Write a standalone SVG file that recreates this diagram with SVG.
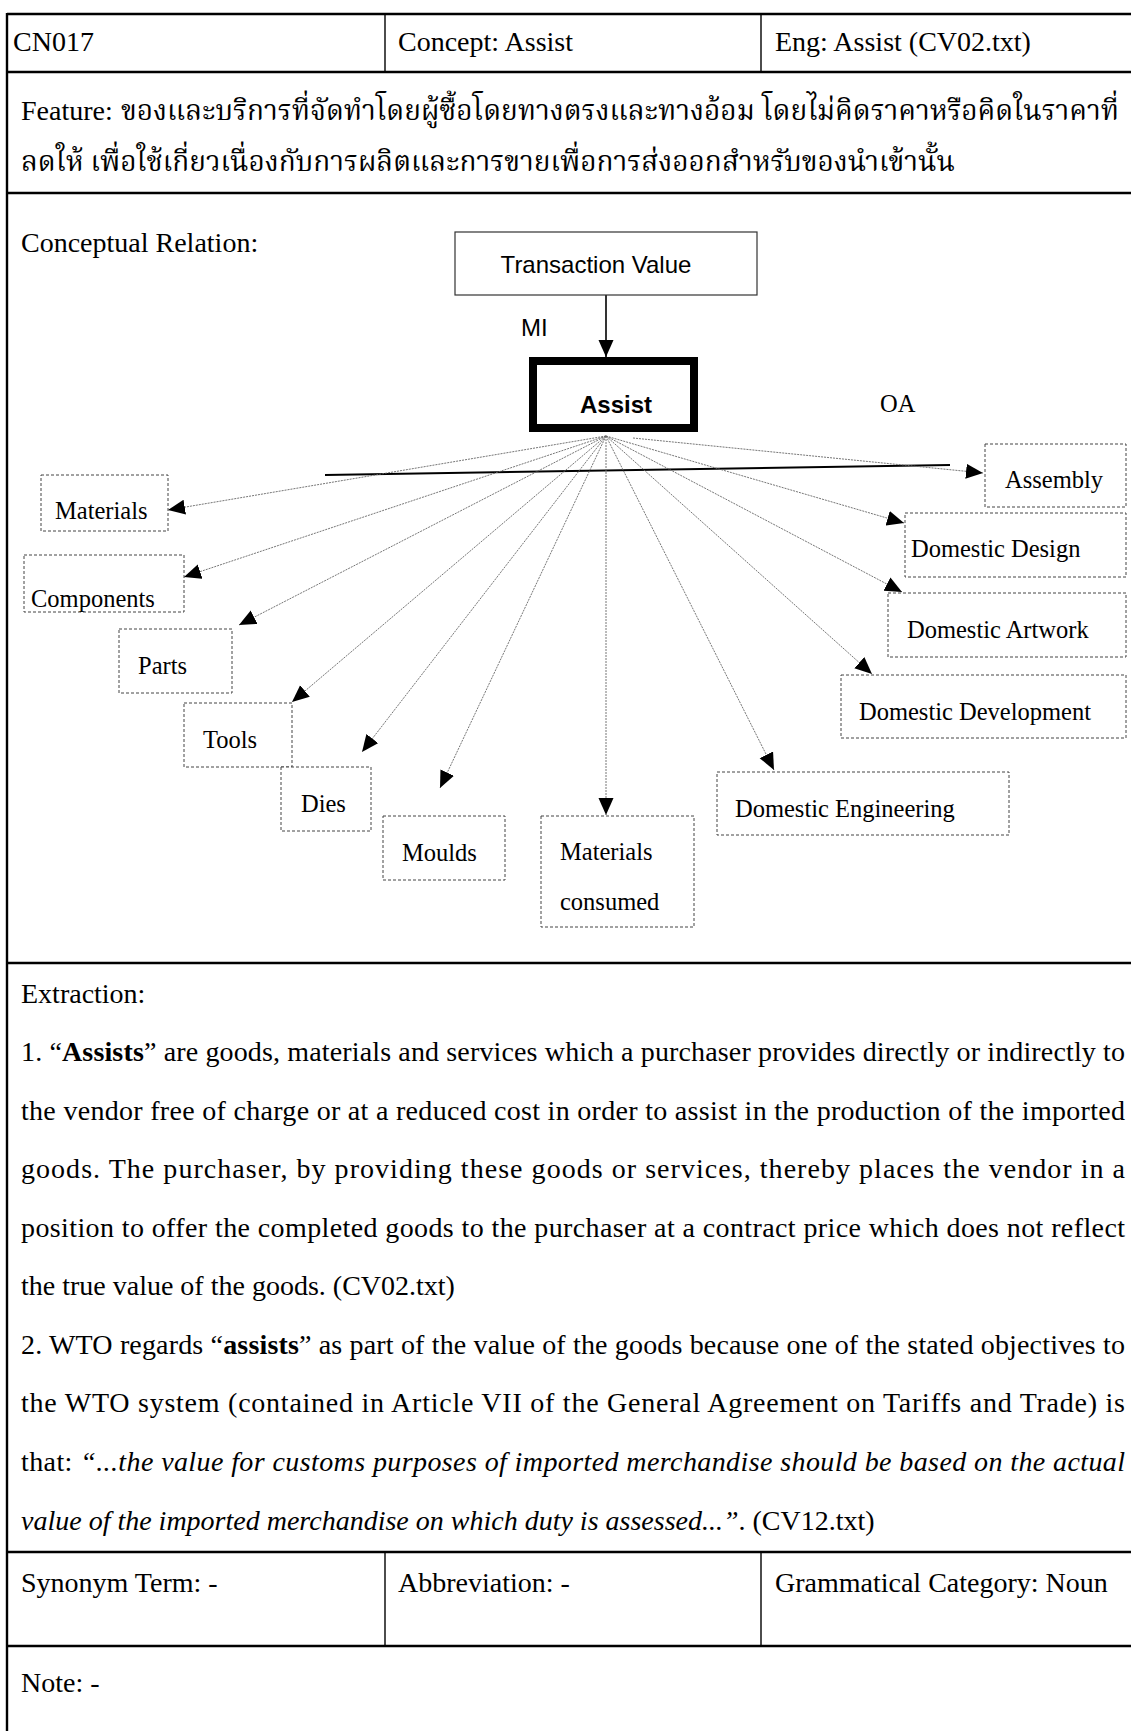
<svg xmlns="http://www.w3.org/2000/svg" width="1131" height="1731" viewBox="0 0 1131 1731">
  <defs>
    <style>
      .rule { stroke: #000; stroke-width: 2.4; fill: none; }
      .col { stroke: #000; stroke-width: 1.4; fill: none; }
      .t { font-family: 'Liberation Serif', 'Times New Roman', serif; font-size: 28px; fill: #000; }
      .th { font-family: 'Noto Serif Thai', 'Noto Sans Thai', 'TH Sarabun New', 'Loma', 'Norasi', 'Garuda', 'Liberation Serif', serif; font-size: 28px; fill: #000; }
      .lbl { font-family: 'Liberation Serif', 'Times New Roman', serif; font-size: 24.5px; fill: #000; }
      .sans { font-family: 'Liberation Sans', Arial, sans-serif; font-size: 24px; fill: #000; }
      .node { fill: #fff; stroke: #444; stroke-width: 1; stroke-dasharray: 3 2; }
      .edge { stroke: #666; stroke-width: 0.9; stroke-dasharray: 2 1; fill: none; marker-end: url(#arrow); }
      .b { font-weight: bold; }
      .i { font-style: italic; }
    </style>
    <marker id="arrow" markerUnits="userSpaceOnUse" markerWidth="18" markerHeight="16" refX="17" refY="7.5" orient="auto">
      <path d="M0,0 L17,7.5 L0,15 z" fill="#000"/>
    </marker>
    <clipPath id="clipComponents">
      <rect x="24" y="555" width="160" height="57"/>
    </clipPath>
  </defs>

  <rect width="1131" height="1731" fill="#fff"/>

  <!-- table frame -->
  <g id="table">
    <line class="rule" x1="7" y1="14" x2="1131" y2="14"/>
    <line class="rule" x1="7" y1="13" x2="7" y2="1731"/>
    <line class="rule" x1="7" y1="72" x2="1131" y2="72"/>
    <line class="rule" x1="7" y1="193" x2="1131" y2="193"/>
    <line class="rule" x1="7" y1="963" x2="1131" y2="963"/>
    <line class="rule" x1="7" y1="1552" x2="1131" y2="1552"/>
    <line class="rule" x1="7" y1="1646" x2="1131" y2="1646"/>
    <line class="col" x1="385" y1="14" x2="385" y2="72"/>
    <line class="col" x1="761" y1="14" x2="761" y2="72"/>
    <line class="col" x1="385" y1="1552" x2="385" y2="1646"/>
    <line class="col" x1="761" y1="1552" x2="761" y2="1646"/>
  </g>

  <!-- header row -->
  <g id="header">
    <text class="t" x="13" y="51">CN017</text>
    <text class="t" x="398" y="51">Concept: Assist</text>
    <text class="t" x="775" y="51">Eng: Assist (CV02.txt)</text>
  </g>

  <!-- feature row -->
  <g id="feature">
    <text class="t" x="21" y="120">Feature:</text>
    <text class="th" x="121" y="120" textLength="998" lengthAdjust="spacingAndGlyphs">ของและบริการที่จัดทำโดยผู้ซื้อโดยทางตรงและทางอ้อม โดยไม่คิดราคาหรือคิดในราคาที่</text>
    <text class="th" x="21" y="171" textLength="934" lengthAdjust="spacingAndGlyphs">ลดให้ เพื่อใช้เกี่ยวเนื่องกับการผลิตและการขายเพื่อการส่งออกสำหรับของนำเข้านั้น</text>
  </g>

  <text class="t" x="21" y="252">Conceptual Relation:</text>

  <!-- connectors -->
  <g id="connectors">
    <line x1="606" y1="295" x2="606" y2="357" stroke="#000" stroke-width="1.6" marker-end="url(#arrow)"/>
    <line x1="325" y1="475" x2="950" y2="465" stroke="#000" stroke-width="2"/>
    <line class="edge" x1="606" y1="436" x2="168" y2="510"/>
    <line class="edge" x1="606" y1="436" x2="184" y2="577"/>
    <line class="edge" x1="606" y1="436" x2="239" y2="625"/>
    <line class="edge" x1="606" y1="436" x2="292" y2="702"/>
    <line class="edge" x1="606" y1="436" x2="362" y2="752"/>
    <line class="edge" x1="606" y1="436" x2="440" y2="788"/>
    <line class="edge" x1="606" y1="436" x2="606" y2="815"/>
    <line class="edge" x1="606" y1="436" x2="774" y2="770"/>
    <line class="edge" x1="606" y1="436" x2="872" y2="674"/>
    <line class="edge" x1="606" y1="436" x2="902" y2="592"/>
    <line class="edge" x1="606" y1="436" x2="904" y2="523"/>
    <line class="edge" x1="633" y1="438" x2="983" y2="473"/>
  </g>

  <!-- relation labels -->
  <text class="sans" x="521" y="336">MI</text>
  <text class="lbl" x="880" y="412">OA</text>

  <!-- nodes -->
  <g id="node-transaction-value">
    <rect x="455" y="232" width="302" height="63" fill="#fff" stroke="#333" stroke-width="1.2"/>
    <text class="sans" x="596" y="273" text-anchor="middle">Transaction Value</text>
  </g>
  <g id="node-assist">
    <rect x="533" y="361" width="161" height="67" fill="#fff" stroke="#000" stroke-width="8"/>
    <text class="sans b" x="616" y="413" text-anchor="middle">Assist</text>
  </g>
  <g id="node-materials">
    <rect class="node" x="41" y="475" width="127" height="56"/>
    <text class="lbl" x="55" y="519">Materials</text>
  </g>
  <g id="node-components">
    <rect class="node" x="24" y="555" width="160" height="57"/>
    <text class="lbl" x="31" y="607" clip-path="url(#clipComponents)">Components</text>
  </g>
  <g id="node-parts">
    <rect class="node" x="119" y="629" width="113" height="64"/>
    <text class="lbl" x="138" y="674">Parts</text>
  </g>
  <g id="node-tools">
    <rect class="node" x="184" y="703" width="108" height="64"/>
    <text class="lbl" x="203" y="748">Tools</text>
  </g>
  <g id="node-dies">
    <rect class="node" x="281" y="767" width="90" height="64"/>
    <text class="lbl" x="301" y="812">Dies</text>
  </g>
  <g id="node-moulds">
    <rect class="node" x="383" y="816" width="122" height="64"/>
    <text class="lbl" x="402" y="861">Moulds</text>
  </g>
  <g id="node-materials-consumed">
    <rect class="node" x="541" y="816" width="153" height="111"/>
    <text class="lbl" x="560" y="860">Materials</text>
    <text class="lbl" x="560" y="910">consumed</text>
  </g>
  <g id="node-domestic-engineering">
    <rect class="node" x="717" y="772" width="292" height="63"/>
    <text class="lbl" x="735" y="817">Domestic Engineering</text>
  </g>
  <g id="node-domestic-development">
    <rect class="node" x="841" y="675" width="285" height="63"/>
    <text class="lbl" x="859" y="720">Domestic Development</text>
  </g>
  <g id="node-domestic-artwork">
    <rect class="node" x="888" y="593" width="238" height="64"/>
    <text class="lbl" x="907" y="638">Domestic Artwork</text>
  </g>
  <g id="node-domestic-design">
    <rect class="node" x="905" y="513" width="221" height="64"/>
    <text class="lbl" x="911" y="557">Domestic Design</text>
  </g>
  <g id="node-assembly">
    <rect class="node" x="985" y="444" width="141" height="63"/>
    <text class="lbl" x="1005" y="488">Assembly</text>
  </g>

  <!-- extraction row -->
  <g id="extraction">
    <text class="t" x="21" y="1003">Extraction:</text>
    <text class="t" x="21" y="1061" textLength="1104" lengthAdjust="spacing">1. “<tspan class="b">Assists</tspan>” are goods, materials and services which a purchaser provides directly or indirectly to</text>
    <text class="t" x="21" y="1120" textLength="1104" lengthAdjust="spacing">the vendor free of charge or at a reduced cost in order to assist in the production of the imported</text>
    <text class="t" x="21" y="1178" textLength="1104" lengthAdjust="spacing">goods. The purchaser, by providing these goods or services, thereby places the vendor in a</text>
    <text class="t" x="21" y="1237" textLength="1104" lengthAdjust="spacing">position to offer the completed goods to the purchaser at a contract price which does not reflect</text>
    <text class="t" x="21" y="1295">the true value of the goods. (CV02.txt)</text>
    <text class="t" x="21" y="1354" textLength="1104" lengthAdjust="spacing">2. WTO regards “<tspan class="b">assists</tspan>” as part of the value of the goods because one of the stated objectives to</text>
    <text class="t" x="21" y="1412" textLength="1104" lengthAdjust="spacing">the WTO system (contained in Article VII of the General Agreement on Tariffs and Trade) is</text>
    <text class="t" x="21" y="1471" textLength="1104" lengthAdjust="spacing">that: <tspan class="i">“...the value for customs purposes of imported merchandise should be based on the actual</tspan></text>
    <text class="t" x="21" y="1530"><tspan class="i">value of the imported merchandise on which duty is assessed...”</tspan>. (CV12.txt)</text>
  </g>

  <!-- synonym / abbreviation / category row -->
  <g id="properties">
    <text class="t" x="21" y="1592">Synonym Term: -</text>
    <text class="t" x="398" y="1592">Abbreviation: -</text>
    <text class="t" x="775" y="1592">Grammatical Category: Noun</text>
  </g>

  <text class="t" x="21" y="1692">Note: -</text>
</svg>
